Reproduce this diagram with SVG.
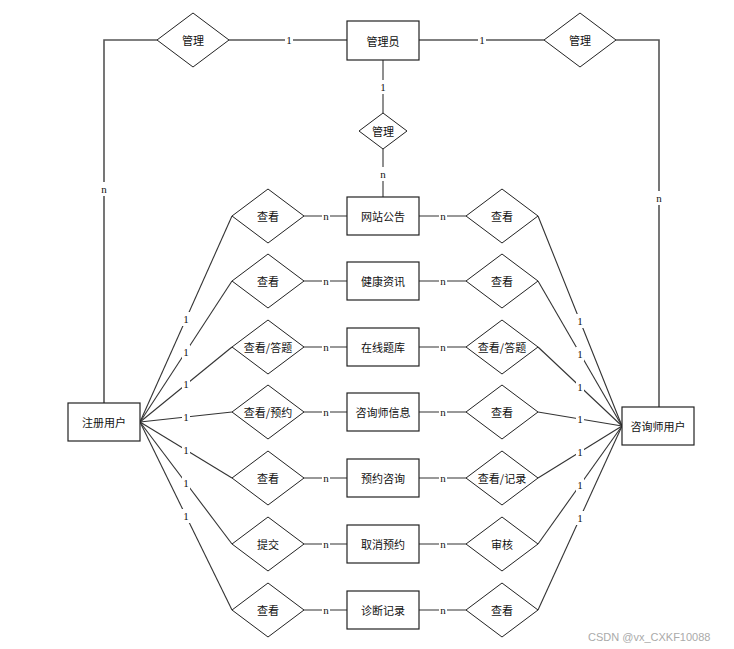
<svg xmlns="http://www.w3.org/2000/svg" width="734" height="649" viewBox="0 0 734 649">
<style>
.ent{fill:#fff;stroke:#222;stroke-width:1.2}
.rel{fill:#fff;stroke:#222;stroke-width:1}
.t{font-family:"Noto Sans CJK SC","Liberation Sans",sans-serif;font-size:11px;fill:#111;text-anchor:middle;dominant-baseline:central}
.c{fill:none;stroke:#333;stroke-width:1.1}
.top{fill:none;stroke:#555;stroke-width:1.6}
.lb{font-family:"Liberation Serif",serif;font-size:11px;fill:#111;text-anchor:middle;dominant-baseline:central}
.bg{fill:#fff}
.wm{font-family:"Liberation Sans",sans-serif;font-size:11px;fill:#aaa}
</style>
<rect width="734" height="649" fill="#fff"/>
<g id="connectors">
<polyline class="top" points="157,40 104,40 104,403"/>
<line class="top" x1="229" y1="40" x2="347" y2="40"/>
<line class="top" x1="419" y1="40" x2="544" y2="40"/>
<polyline class="top" points="616,40 659,40 659,407"/>
<line class="c" x1="383" y1="60" x2="383" y2="113"/>
<line class="c" x1="383" y1="149" x2="383" y2="197"/>
<g>
<line class="c" x1="304" y1="216" x2="347" y2="216"/><line class="c" x1="419" y1="216" x2="466" y2="216"/>
<line class="c" x1="304" y1="281" x2="347" y2="281"/><line class="c" x1="419" y1="281" x2="466" y2="281"/>
<line class="c" x1="304" y1="347" x2="347" y2="347"/><line class="c" x1="419" y1="347" x2="466" y2="347"/>
<line class="c" x1="304" y1="412" x2="347" y2="412"/><line class="c" x1="419" y1="412" x2="466" y2="412"/>
<line class="c" x1="304" y1="478" x2="347" y2="478"/><line class="c" x1="419" y1="478" x2="466" y2="478"/>
<line class="c" x1="304" y1="544" x2="347" y2="544"/><line class="c" x1="419" y1="544" x2="466" y2="544"/>
<line class="c" x1="304" y1="610" x2="347" y2="610"/><line class="c" x1="419" y1="610" x2="466" y2="610"/>
</g>
<g>
<line class="c" x1="140" y1="422" x2="232" y2="216"/>
<line class="c" x1="140" y1="422" x2="232" y2="281"/>
<line class="c" x1="140" y1="422" x2="232" y2="347"/>
<line class="c" x1="140" y1="422" x2="232" y2="412"/>
<line class="c" x1="140" y1="422" x2="232" y2="478"/>
<line class="c" x1="140" y1="422" x2="232" y2="544"/>
<line class="c" x1="140" y1="422" x2="232" y2="610"/>
<line class="c" x1="622" y1="426" x2="538" y2="216"/>
<line class="c" x1="622" y1="426" x2="538" y2="281"/>
<line class="c" x1="622" y1="426" x2="538" y2="347"/>
<line class="c" x1="622" y1="426" x2="538" y2="412"/>
<line class="c" x1="622" y1="426" x2="538" y2="478"/>
<line class="c" x1="622" y1="426" x2="538" y2="544"/>
<line class="c" x1="622" y1="426" x2="538" y2="610"/>
</g>
<g id="labels">
<rect class="bg" x="285" y="33" width="8" height="14"/><text class="lb" x="289" y="40">1</text>
<rect class="bg" x="478" y="33" width="8" height="14"/><text class="lb" x="482" y="40">1</text>
<rect class="bg" x="100" y="182" width="8" height="14"/><text class="lb" x="104" y="189">n</text>
<rect class="bg" x="655" y="191" width="8" height="14"/><text class="lb" x="659" y="198">n</text>
<rect class="bg" x="379" y="80" width="8" height="14"/><text class="lb" x="383" y="87">1</text>
<rect class="bg" x="379" y="167" width="8" height="14"/><text class="lb" x="383" y="174">n</text>
<g>
<rect class="bg" x="322" y="210" width="8" height="12"/><text class="lb" x="326" y="216">n</text>
<rect class="bg" x="439" y="210" width="8" height="12"/><text class="lb" x="443" y="216">n</text>
<rect class="bg" x="322" y="275" width="8" height="12"/><text class="lb" x="326" y="281">n</text>
<rect class="bg" x="439" y="275" width="8" height="12"/><text class="lb" x="443" y="281">n</text>
<rect class="bg" x="322" y="341" width="8" height="12"/><text class="lb" x="326" y="347">n</text>
<rect class="bg" x="439" y="341" width="8" height="12"/><text class="lb" x="443" y="347">n</text>
<rect class="bg" x="322" y="406" width="8" height="12"/><text class="lb" x="326" y="412">n</text>
<rect class="bg" x="439" y="406" width="8" height="12"/><text class="lb" x="443" y="412">n</text>
<rect class="bg" x="322" y="472" width="8" height="12"/><text class="lb" x="326" y="478">n</text>
<rect class="bg" x="439" y="472" width="8" height="12"/><text class="lb" x="443" y="478">n</text>
<rect class="bg" x="322" y="538" width="8" height="12"/><text class="lb" x="326" y="544">n</text>
<rect class="bg" x="439" y="538" width="8" height="12"/><text class="lb" x="443" y="544">n</text>
<rect class="bg" x="322" y="604" width="8" height="12"/><text class="lb" x="326" y="610">n</text>
<rect class="bg" x="439" y="604" width="8" height="12"/><text class="lb" x="443" y="610">n</text>
</g>
<g>
<rect class="bg" x="182" y="312" width="8" height="14"/><text class="lb" x="186" y="319">1</text>
<rect class="bg" x="182" y="345" width="8" height="14"/><text class="lb" x="186" y="352">1</text>
<rect class="bg" x="182" y="377" width="8" height="14"/><text class="lb" x="186" y="384">1</text>
<rect class="bg" x="182" y="410" width="8" height="14"/><text class="lb" x="186" y="417">1</text>
<rect class="bg" x="182" y="443" width="8" height="14"/><text class="lb" x="186" y="450">1</text>
<rect class="bg" x="182" y="476" width="8" height="14"/><text class="lb" x="186" y="483">1</text>
<rect class="bg" x="182" y="509" width="8" height="14"/><text class="lb" x="186" y="516">1</text>
<rect class="bg" x="576" y="314" width="8" height="14"/><text class="lb" x="580" y="321">1</text>
<rect class="bg" x="576" y="347" width="8" height="14"/><text class="lb" x="580" y="354">1</text>
<rect class="bg" x="576" y="380" width="8" height="14"/><text class="lb" x="580" y="387">1</text>
<rect class="bg" x="576" y="412" width="8" height="14"/><text class="lb" x="580" y="419">1</text>
<rect class="bg" x="576" y="445" width="8" height="14"/><text class="lb" x="580" y="452">1</text>
<rect class="bg" x="576" y="478" width="8" height="14"/><text class="lb" x="580" y="485">1</text>
<rect class="bg" x="576" y="511" width="8" height="14"/><text class="lb" x="580" y="518">1</text>
</g>
</g>
</g>
<g id="admin"><rect class="ent" x="347" y="21" width="72" height="39"/><text class="t" x="383" y="40.5">管理员</text></g>
<g id="rel-admin-left"><polygon class="rel" points="157,40 193,13 229,40 193,67"/><text class="t" x="193" y="40">管理</text></g>
<g id="rel-admin-right"><polygon class="rel" points="544,40 580,13 616,40 580,67"/><text class="t" x="580" y="40">管理</text></g>
<g id="rel-admin-notice"><polygon class="rel" points="359,131 383,113 407,131 383,149"/><text class="t" x="383" y="131">管理</text></g>
<g id="user"><rect class="ent" x="68" y="403" width="72" height="38"/><text class="t" x="104" y="422">注册用户</text></g>
<g id="counselor"><rect class="ent" x="622" y="407" width="72" height="38"/><text class="t" x="658" y="426">咨询师用户</text></g>
<g id="notice"><rect class="ent" x="347" y="197" width="72" height="38"/><text class="t" x="383" y="216">网站公告</text></g>
<g id="news"><rect class="ent" x="347" y="262" width="72" height="38"/><text class="t" x="383" y="281">健康资讯</text></g>
<g id="quiz"><rect class="ent" x="347" y="328" width="72" height="38"/><text class="t" x="383" y="347">在线题库</text></g>
<g id="info"><rect class="ent" x="347" y="393" width="72" height="38"/><text class="t" x="383" y="412">咨询师信息</text></g>
<g id="booking"><rect class="ent" x="347" y="459" width="72" height="38"/><text class="t" x="383" y="478">预约咨询</text></g>
<g id="cancel"><rect class="ent" x="347" y="525" width="72" height="38"/><text class="t" x="383" y="544">取消预约</text></g>
<g id="diagnosis"><rect class="ent" x="347" y="591" width="72" height="38"/><text class="t" x="383" y="610">诊断记录</text></g>
<g id="l1"><polygon class="rel" points="232,216 268,189 304,216 268,243"/><text class="t" x="268" y="216">查看</text></g>
<g id="l2"><polygon class="rel" points="232,281 268,254 304,281 268,308"/><text class="t" x="268" y="281">查看</text></g>
<g id="l3"><polygon class="rel" points="232,347 268,320 304,347 268,374"/><text class="t" x="268" y="347">查看/答题</text></g>
<g id="l4"><polygon class="rel" points="232,412 268,385 304,412 268,439"/><text class="t" x="268" y="412">查看/预约</text></g>
<g id="l5"><polygon class="rel" points="232,478 268,451 304,478 268,505"/><text class="t" x="268" y="478">查看</text></g>
<g id="l6"><polygon class="rel" points="232,544 268,517 304,544 268,571"/><text class="t" x="268" y="544">提交</text></g>
<g id="l7"><polygon class="rel" points="232,610 268,583 304,610 268,637"/><text class="t" x="268" y="610">查看</text></g>
<g id="r1"><polygon class="rel" points="466,216 502,189 538,216 502,243"/><text class="t" x="502" y="216">查看</text></g>
<g id="r2"><polygon class="rel" points="466,281 502,254 538,281 502,308"/><text class="t" x="502" y="281">查看</text></g>
<g id="r3"><polygon class="rel" points="466,347 502,320 538,347 502,374"/><text class="t" x="502" y="347">查看/答题</text></g>
<g id="r4"><polygon class="rel" points="466,412 502,385 538,412 502,439"/><text class="t" x="502" y="412">查看</text></g>
<g id="r5"><polygon class="rel" points="466,478 502,451 538,478 502,505"/><text class="t" x="502" y="478">查看/记录</text></g>
<g id="r6"><polygon class="rel" points="466,544 502,517 538,544 502,571"/><text class="t" x="502" y="544">审核</text></g>
<g id="r7"><polygon class="rel" points="466,610 502,583 538,610 502,637"/><text class="t" x="502" y="610">查看</text></g>
<text class="wm" x="588" y="641">CSDN @vx_CXKF10088</text>
</svg>
